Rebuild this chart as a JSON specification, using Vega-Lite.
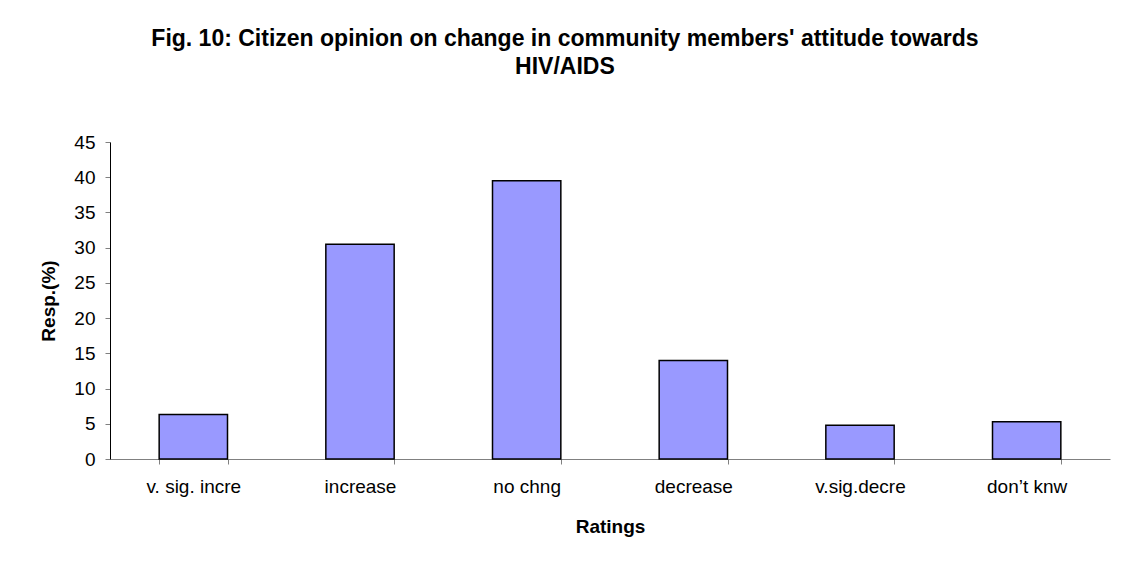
{
  "$schema": "https://vega.github.io/schema/vega-lite/v6.json",
  "width": 1000,
  "height": 317,
  "autosize": {"type": "none"},
  "padding": {"left": 110, "top": 142, "right": 20, "bottom": 106},
  "background": "white",
  "title": {
    "text": ["Fig. 10: Citizen opinion on change in community members' attitude towards", "HIV/AIDS"],
    "font": "Liberation Sans",
    "fontSize": 23,
    "fontWeight": "bold",
    "color": "black",
    "lineHeight": 28,
    "anchor": "middle",
    "frame": "bounds",
    "dx": -10,
    "offset": 54
  },
  "data": {
    "values": [
      {"rating": "v. sig. incre", "resp": 6.3},
      {"rating": "increase", "resp": 30.5},
      {"rating": "no chng", "resp": 39.5},
      {"rating": "decrease", "resp": 14.0},
      {"rating": "v.sig.decre", "resp": 4.8},
      {"rating": "don’t knw", "resp": 5.3}
    ]
  },
  "mark": {"type": "bar", "fill": "#9999FF", "stroke": "black", "strokeWidth": 1.5},
  "encoding": {
    "x": {
      "field": "rating",
      "type": "nominal",
      "sort": null,
      "title": "Ratings",
      "scale": {"paddingInner": 0.59, "paddingOuter": 0.295},
      "axis": {
        "labelAngle": 0,
        "labelFont": "Liberation Sans",
        "labelFontSize": 19,
        "labelColor": "black",
        "labelPadding": 13,
        "tickBand": "extent",
        "tickSize": 5,
        "tickColor": "#808080",
        "domainColor": "#808080",
        "titleFont": "Liberation Sans",
        "titleFontSize": 19,
        "titleFontWeight": "bold",
        "titleColor": "black",
        "titlePadding": 21
      }
    },
    "y": {
      "field": "resp",
      "type": "quantitative",
      "title": "Resp.(%)",
      "scale": {"domain": [0, 45]},
      "axis": {
        "values": [0, 5, 10, 15, 20, 25, 30, 35, 40, 45],
        "grid": false,
        "labelFont": "Liberation Sans",
        "labelFontSize": 19,
        "labelColor": "black",
        "labelPadding": 10,
        "tickSize": 5,
        "tickColor": "#808080",
        "domainColor": "black",
        "titleFont": "Liberation Sans",
        "titleFontSize": 19,
        "titleFontWeight": "bold",
        "titleColor": "black",
        "titlePadding": 15
      }
    }
  },
  "config": {"view": {"stroke": null}}
}
